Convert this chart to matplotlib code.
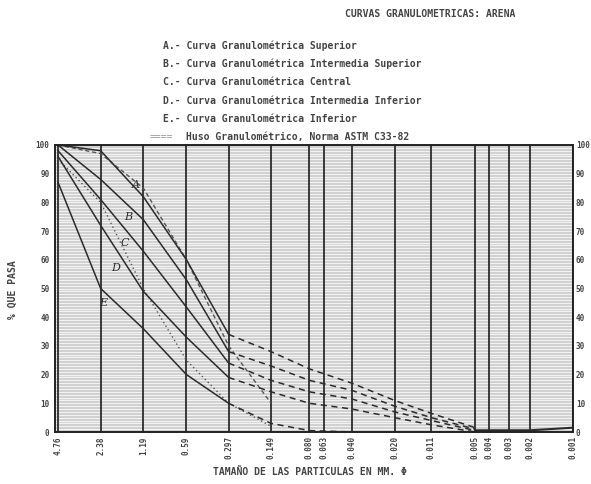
import numpy as np
import matplotlib
matplotlib.use("Agg")
import matplotlib.pyplot as plt

# ---------------- data ----------------
tick_mm = [4.76, 2.38, 1.19, 0.59, 0.297, 0.149, 0.080, 0.063, 0.040, 0.020,
           0.011, 0.0054, 0.0043, 0.0031, 0.0022, 0.0011]
tick_labels = ["4.76", "2.38", "1.19", "0.59", "0.297", "0.149", "0.080", "0.063",
               "0.040", "0.020", "0.011", "0.005", "0.004", "0.003", "0.002", "0.001"]

coarse_mm = [4.76, 2.38, 1.19, 0.59, 0.297]
fine_mm = [0.297, 0.149, 0.080, 0.040, 0.020, 0.011, 0.0054]

A_coarse = [100, 98, 82, 60, 34]
A_fine = [34, 28, 22, 17, 11, 6.5, 1.5]
B_coarse = [100, 88, 74, 53, 28]
B_fine = [28, 23, 18, 14.5, 9, 5, 1]
C_coarse = [98, 81, 63, 43.5, 24]
C_fine = [24, 18, 14, 11.5, 7, 4, 0.5]
D_coarse = [96, 72, 49, 33, 19]
D_fine = [19, 14, 10, 8, 5, 2.5, 0]
E_coarse = [87, 50, 36, 20, 10]
E_fine = [10, 3, 0.5, 0, 0, 0, 0]

tail_mm = [0.0054, 0.0022, 0.0011]
tail_pct = [0.6, 0.6, 1.5]

huso_mm = [4.76, 2.38, 1.19, 0.59, 0.297, 0.149]
huso_upper = [100, 97, 85, 60, 30, 10]
huso_lower = [95, 80, 50, 25, 10, 2]

curve_names = ["A", "B", "C", "D", "E"]
label_mm = [1.35, 1.52, 1.60, 1.88, 2.29]
label_pct = [86, 75, 66, 57, 45]

legend_lines = [
    "A.- Curva Granulométrica Superior",
    "B.- Curva Granulométrica Intermedia Superior",
    "C.- Curva Granulométrica Central",
    "D.- Curva Granulométrica Intermedia Inferior",
    "E.- Curva Granulométrica Inferior",
]
huso_text = "Huso Granulométrico, Norma ASTM C33-82"
title_text = "CURVAS GRANULOMETRICAS: ARENA"
xlabel_text = "TAMAÑO DE LAS PARTICULAS EN MM. Φ"
ylabel_text = "% QUE PASA"

# ---------------- figure ----------------
W, H = 591, 484
fig = plt.figure(figsize=(W / 100, H / 100), dpi=100)
fig.patch.set_facecolor("white")
mono = ["DejaVu Sans Mono"]
tcol = "#444444"

L, R, T, B_ = 55, 573, 145, 432
ax = fig.add_axes([L / W, 1 - B_ / H, (R - L) / W, (B_ - T) / H])
ax.set_facecolor("#c9c9c9")
ax.set_xscale("log")
ax.set_xlim(5.0, 0.0011)
ax.set_ylim(0, 100)

# dense horizontal ruling
ax.hlines(np.arange(0, 101, 1), 5.0, 0.0011, colors="#f2f2f2", lw=1.0, zorder=1)
# vertical sieve lines
ax.vlines(tick_mm, 0, 100, colors="#1e1e1e", lw=1.2, zorder=2)

ax.set_xticks(tick_mm)
ax.set_xticklabels(tick_labels, rotation=90, fontsize=5.5, family=mono,
                   color=tcol, fontweight="bold")
ax.xaxis.set_minor_locator(matplotlib.ticker.NullLocator())
ax.set_yticks(np.arange(0, 101, 10))
ax.tick_params(axis="y", labelsize=5.5, colors=tcol, length=0, pad=4)
ax.tick_params(axis="x", length=0, pad=3)
for lab in ax.get_yticklabels():
    lab.set_family(mono)
    lab.set_fontweight("bold")
ax2 = ax.twinx()
ax2.set_ylim(0, 100)
ax2.set_yticks(np.arange(0, 101, 10))
ax2.tick_params(axis="y", labelsize=5.5, colors=tcol, length=0, pad=2)
for lab in ax2.get_yticklabels():
    lab.set_family(mono)
    lab.set_fontweight("bold")
for a in (ax, ax2):
    for s in a.spines.values():
        s.set_color("#222")
        s.set_linewidth(1.2)

# curves
curves = [(A_coarse, A_fine), (B_coarse, B_fine), (C_coarse, C_fine),
          (D_coarse, D_fine), (E_coarse, E_fine)]
ccol = "#2b2b2b"
for cc, ff in curves:
    ax.plot(coarse_mm, cc, color=ccol, lw=1.1, zorder=4)
    ax.plot(fine_mm, ff, color=ccol, lw=1.1, ls=(0, (4, 3)), zorder=4)
for name, lx, ly in zip(curve_names, label_mm, label_pct):
    ax.text(lx, ly, name, fontsize=8, family=["DejaVu Serif"], style="italic",
            color=ccol, ha="center", va="center", zorder=5)
ax.plot(tail_mm, tail_pct, color=ccol, lw=1.5, zorder=4)

ax.plot(huso_mm, huso_upper, color="#555", lw=1.0, ls=(0, (3, 2)), zorder=3)
ax.plot(huso_mm, huso_lower, color="#555", lw=1.0, ls=(0, (1, 2)), zorder=3)

# texts
kw = dict(family=mono, fontsize=7, color=tcol, fontweight="bold", va="center")
fig.text(345 / W, 1 - 14 / H, title_text, ha="left", **kw)
for i, s in enumerate(legend_lines):
    fig.text(163 / W, 1 - (46 + i * 18.2) / H, s, ha="left", **kw)
fig.text(150 / W, 1 - 137 / H, "====", family=mono, fontsize=7, color="#9a9a9a",
         ha="left", va="center")
fig.text(186 / W, 1 - 137 / H, huso_text, ha="left", **kw)
fig.text(310 / W, 1 - 472 / H, xlabel_text, ha="center", **kw)
fig.text(13 / W, 1 - 290 / H, ylabel_text, ha="center", rotation=90, **kw)

fig.savefig("out.png", dpi=100)
